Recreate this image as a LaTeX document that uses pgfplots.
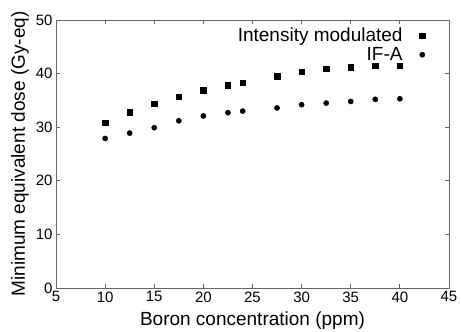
\documentclass[border=0pt]{standalone}
\usepackage{fontspec}
\setmainfont{Liberation Sans}
\usepackage{pgfplots}
\pgfplotsset{compat=1.18}
\begin{document}
\begin{tikzpicture}
\useasboundingbox (-56pt,-44pt) rectangle (405pt,288pt);
\begin{axis}[
  scale only axis,
  width=393pt, height=268pt,
  at={(0,0)}, anchor=south west,
  xmin=5, xmax=45, ymin=0, ymax=50,
  xtick={5,10,...,45}, ytick={0,10,...,50},
  tick align=inside,
  major tick length=4pt,
  axis line style={gray!80!black, line width=0.8pt},
  every tick/.style={gray!80!black, line width=0.8pt},
  tick label style={font=\fontsize{15}{17}\selectfont},
  /pgf/number format/assume math mode=true,
  xlabel={Boron concentration (ppm)},
  ylabel={Minimum equivalent dose (Gy-eq)},
  label style={font=\fontsize{19}{22}\selectfont},
  xlabel style={yshift=-3pt},
  ylabel style={yshift=0pt},
  legend cell align=right,
  legend plot pos=right,
  legend style={draw=none, fill=none, at={(0.947,0.985)}, anchor=north east,
    font=\fontsize{19}{22}\selectfont, row sep=0pt, column sep=15pt},
]
\addplot[only marks, mark=square*, mark size=2.7pt, black] coordinates {
(10,30.8) (12.5,32.8) (15,34.4) (17.5,35.7) (20,36.9) (22.5,37.8) (24,38.3)
(27.5,39.55) (30,40.4) (32.5,40.9) (35,41.2) (37.5,41.5) (40,41.5)
};
\addlegendentry{Intensity modulated}
\addplot[only marks, mark=*, mark size=2.6pt, black] coordinates {
(10,27.9) (12.5,28.9) (15,29.9) (17.5,31.2) (20,32.1) (22.5,32.7) (24,33.0)
(27.5,33.6) (30,34.2) (32.5,34.5) (35,34.8) (37.5,35.2) (40,35.3)
};
\addlegendentry{IF-A}
\end{axis}
\end{tikzpicture}
\end{document}
